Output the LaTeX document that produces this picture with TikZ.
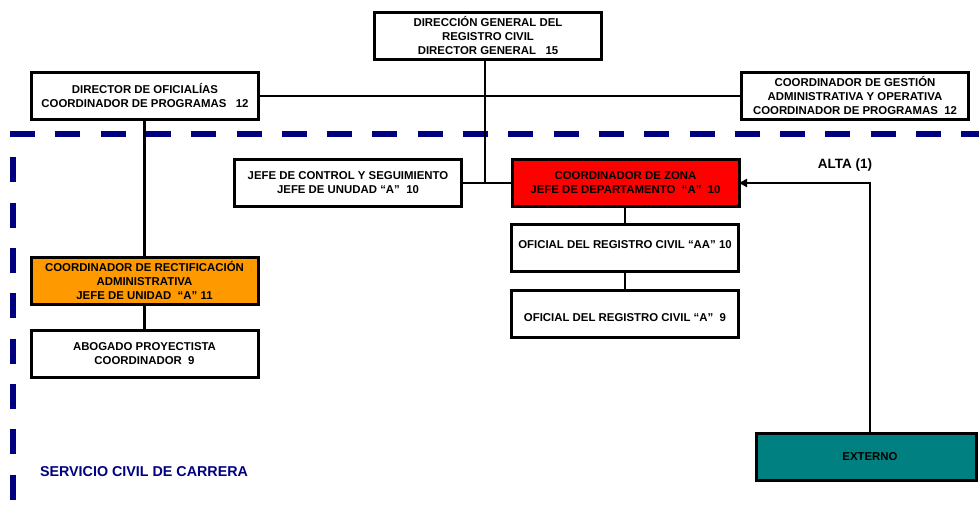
\documentclass[tikz,border=0pt]{standalone}
\usepackage{fontspec}
\setmainfont{Liberation Sans}
\usetikzlibrary{arrows.meta}
\definecolor{navy}{RGB}{0,0,128}
\definecolor{orng}{RGB}{255,153,0}
\definecolor{teal2}{RGB}{0,128,128}
\begin{document}
\begin{tikzpicture}[x=1pt,y=-1pt,
  box/.style={draw=black, line width=3, fill=white, minimum width=227, minimum height=47,
    inner sep=0, outer sep=0, align=center, font=\fontsize{11.4}{14}\selectfont\bfseries},
  txt/.style={inner sep=0, align=center, font=\fontsize{11.4}{14}\selectfont\bfseries},
  conn/.style={line width=2.2, black},
  navydash/.style={navy, line width=6, dash pattern=on 25 off 20.3}]
\useasboundingbox (0,0) rectangle (979,505);
% dashed border of the career civil service area
\draw[navydash] (10,134) -- (979,134);
\draw[navydash] (13,157.5) -- (13,505);
% boxes
\node[box] (dg) at (488,36) {DIRECCIÓN GENERAL DEL\\REGISTRO CIVIL\\DIRECTOR GENERAL \ \ 15};
\node[box] (ofi) at (145,96) {DIRECTOR DE OFICIALÍAS\\COORDINADOR DE PROGRAMAS \ \ 12};
\node[box] (ges) at (855,96) {COORDINADOR DE GESTIÓN\\ADMINISTRATIVA Y OPERATIVA\\COORDINADOR DE PROGRAMAS \ 12};
\node[box] (jefe) at (348,183) {JEFE DE CONTROL Y SEGUIMIENTO\\JEFE DE UNUDAD “A” \ 10};
\node[box, fill=red] (zona) at (625.5,183) {COORDINADOR DE ZONA\\JEFE DE DEPARTAMENTO \ “A” \ 10};
\node[box] (aa) at (625,248) {};
\node[txt] (aat) at (625,245) {OFICIAL DEL REGISTRO CIVIL “AA” 10};
\node[box] (a9) at (625,313.5) {};
\node[txt] (a9t) at (625,318) {OFICIAL DEL REGISTRO CIVIL “A” \ 9};
\node[box, fill=orng] (rect) at (144.5,281) {COORDINADOR DE RECTIFICACIÓN\\ADMINISTRATIVA\\JEFE DE UNIDAD \ “A” 11};
\node[box] (abog) at (144.5,354) {ABOGADO PROYECTISTA\\COORDINADOR \ 9};
\node[box, fill=teal2, minimum width=220] (ext) at (866.5,457) {};
\node[txt] (extt) at (870,457) {EXTERNO};
\node[inner sep=0, font=\fontsize{13.5}{16}\selectfont\bfseries] (alta) at (845,165) {ALTA (1)};
\node[inner sep=0, text=navy, font=\fontsize{14.3}{17}\selectfont\bfseries] (scc) at (144,472) {SERVICIO CIVIL DE CARRERA};
% connectors
\coordinate (j) at (485,183);
\draw[conn] (dg.south -| j) -- (j);
\draw[conn, line width=1.5] (ofi.east) -- (ges.west);
\draw[conn] (jefe.east) -- (zona.west);
\draw[conn] (ofi.south -| rect.north) -- (rect.north);
\draw[conn] (rect.south) -- (abog.north);
\draw[conn] (aa.north |- zona.south) -- (aa.north);
\draw[conn] (aa.south) -- (a9.north);
\coordinate (eup) at (870,432);
\draw[line width=2.6, -{Triangle[length=8,width=8]}] (eup) |- (zona.east);
\end{tikzpicture}
\end{document}
